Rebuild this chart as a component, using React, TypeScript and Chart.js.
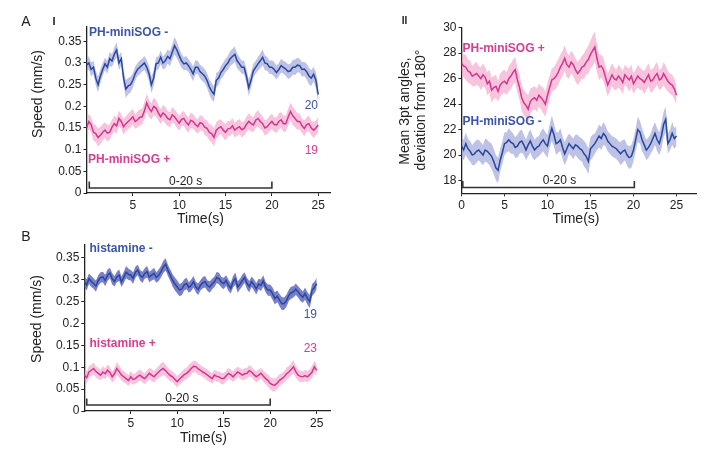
import React, { useEffect, useRef } from "react";
import { Chart, registerables } from "chart.js";
Chart.register(...registerables);

const W = 725;
const H = 460;
const FONT = "'Liberation Sans', Arial, sans-serif";

// sample times (s), 0.25 s resolution
const times: number[] = Array.from({ length: 101 }, (_, i) => i * 0.25);

// ---------- Panel A-I : speed (mm/s) ----------
const aiNegMean = [
  0.295,0.300,0.285,0.290, 0.265,0.250,0.270,0.285, 0.298,0.290,0.310,0.305, 0.320,0.330,0.300,0.310, 0.265,0.240,0.247,0.250,
  0.260,0.275,0.285,0.290, 0.295,0.300,0.290,0.275, 0.250,0.265,0.298,0.300, 0.313,0.300,0.305,0.315, 0.310,0.325,0.340,0.330,
  0.317,0.305,0.298,0.300, 0.294,0.285,0.275,0.290, 0.290,0.280,0.275,0.270, 0.260,0.245,0.235,0.228, 0.260,0.265,0.278,0.285,
  0.294,0.300,0.310,0.315, 0.320,0.305,0.298,0.290, 0.290,0.270,0.243,0.260, 0.282,0.290,0.298,0.305, 0.313,0.300,0.298,0.290,
  0.290,0.285,0.278,0.285, 0.294,0.290,0.286,0.280, 0.282,0.290,0.290,0.295, 0.294,0.285,0.286,0.280, 0.270,0.265,0.274,0.260,
  0.227,
];
const aiNegSem = [
  0.014,0.015,0.016,0.015, 0.017,0.018,0.016,0.015, 0.014,0.015,0.016,0.015, 0.016,0.018,0.017,0.016, 0.018,0.020,0.019,0.018,
  0.017,0.016,0.015,0.016, 0.015,0.016,0.017,0.018, 0.019,0.018,0.016,0.015, 0.016,0.015,0.017,0.016, 0.017,0.018,0.020,0.019,
  0.017,0.016,0.015,0.016, 0.015,0.016,0.017,0.016, 0.015,0.016,0.017,0.016, 0.017,0.018,0.019,0.018, 0.017,0.016,0.015,0.016,
  0.015,0.016,0.017,0.018, 0.018,0.017,0.016,0.015, 0.016,0.017,0.019,0.018, 0.016,0.015,0.016,0.017, 0.018,0.017,0.016,0.015,
  0.016,0.017,0.016,0.015, 0.016,0.015,0.016,0.017, 0.016,0.017,0.018,0.017, 0.016,0.017,0.016,0.018, 0.019,0.018,0.017,0.019,
  0.020,
];
const aiPosMean = [
  0.150,0.165,0.158,0.140, 0.137,0.128,0.133,0.140, 0.145,0.138,0.140,0.152, 0.160,0.155,0.172,0.165, 0.153,0.160,0.165,0.170,
  0.176,0.165,0.169,0.175, 0.176,0.190,0.208,0.195, 0.188,0.200,0.196,0.185, 0.176,0.185,0.180,0.172, 0.169,0.180,0.176,0.168,
  0.161,0.170,0.172,0.163, 0.157,0.168,0.165,0.158, 0.153,0.162,0.160,0.152, 0.149,0.140,0.137,0.128, 0.145,0.150,0.153,0.145,
  0.140,0.148,0.149,0.155, 0.145,0.150,0.153,0.146, 0.149,0.158,0.165,0.160, 0.157,0.168,0.172,0.165, 0.160,0.150,0.153,0.160,
  0.165,0.158,0.157,0.165, 0.169,0.160,0.160,0.175, 0.188,0.178,0.172,0.165, 0.165,0.155,0.149,0.158, 0.160,0.150,0.145,0.150,
  0.157,
];
const aiPosSem = [
  0.017,0.018,0.017,0.019, 0.020,0.021,0.020,0.019, 0.018,0.019,0.018,0.017, 0.018,0.019,0.018,0.017, 0.018,0.017,0.018,0.019,
  0.018,0.017,0.018,0.019, 0.018,0.020,0.021,0.020, 0.019,0.020,0.019,0.018, 0.017,0.018,0.019,0.018, 0.017,0.018,0.017,0.018,
  0.017,0.016,0.017,0.018, 0.017,0.018,0.017,0.016, 0.017,0.018,0.017,0.018, 0.018,0.019,0.020,0.021, 0.019,0.018,0.017,0.018,
  0.019,0.018,0.017,0.018, 0.017,0.018,0.017,0.018, 0.017,0.018,0.019,0.018, 0.017,0.018,0.019,0.018, 0.017,0.018,0.017,0.018,
  0.018,0.017,0.018,0.019, 0.018,0.019,0.018,0.019, 0.020,0.021,0.020,0.019, 0.018,0.017,0.018,0.017, 0.018,0.017,0.018,0.017,
  0.018,
];

// ---------- Panel A-II : mean 3pt angle deviation (deg) ----------
const aiiPosMean = [
  27.2,27.0,26.9,26.6, 26.5,26.2,26.3,26.4, 26.2,26.0,26.3,26.1, 25.6,25.8,25.1,25.3, 25.4,25.0,25.5,25.7,
  25.8,25.6,26.0,26.2, 26.5,26.7,25.9,25.3, 24.5,24.1,23.9,23.6, 24.2,24.4,24.5,24.3, 24.7,24.5,24.3,24.0,
  24.7,25.3,25.9,26.0, 26.2,26.5,26.9,27.2, 27.6,27.1,26.9,27.3, 27.1,26.7,26.4,26.6, 26.9,27.0,27.3,27.5,
  27.9,28.2,28.5,27.6, 26.9,27.0,26.7,26.1, 25.5,25.9,26.3,26.0, 25.9,26.2,26.0,25.7, 26.3,26.1,25.9,26.2,
  25.6,25.9,26.2,26.0, 25.9,25.7,26.0,26.3, 25.8,25.9,26.2,26.4, 25.9,26.0,26.4,26.1, 25.8,25.6,25.5,25.2,
  24.7,
];
const aiiPosSem = [
  0.9,0.9,1.0,0.9, 0.9,0.8,0.9,0.9, 0.8,0.9,0.9,0.8, 0.9,0.9,1.0,0.9, 0.9,0.8,0.9,0.9,
  0.9,0.9,1.0,1.0, 1.0,1.0,1.0,1.0, 1.0,1.0,1.0,1.1, 1.0,0.9,0.9,0.9, 0.9,0.9,1.0,1.0,
  1.0,0.9,0.9,0.9, 1.0,1.0,1.0,1.0, 1.0,1.0,0.9,0.9, 0.9,0.9,0.9,0.9, 0.9,1.0,1.0,1.1,
  1.1,1.2,1.2,1.1, 1.0,0.9,0.9,0.9, 0.9,0.9,0.9,0.9, 0.8,0.9,0.9,0.9, 0.8,0.8,0.9,0.9,
  0.8,0.8,0.9,0.9, 0.8,0.9,0.9,0.9, 0.9,0.9,0.9,0.9, 0.8,0.8,0.9,0.9, 0.8,0.8,0.8,0.8,
  0.8,
];
const aiiNegMean = [
  20.7,20.4,20.9,20.5, 20.3,20.0,20.1,20.3, 20.4,20.2,20.0,20.4, 20.3,20.1,19.9,19.5, 19.0,18.8,19.6,20.2,
  20.9,21.0,21.2,21.0, 20.9,20.6,20.7,21.0, 21.1,20.8,20.4,20.8, 21.1,20.7,20.4,20.6, 20.7,21.0,21.2,20.9,
  20.7,21.5,22.1,21.6, 20.9,21.0,21.2,20.6, 20.1,20.5,20.9,20.7, 20.5,20.8,20.7,20.5, 20.4,20.1,19.9,19.5,
  20.5,20.7,20.9,21.2, 21.5,21.3,21.7,21.5, 21.1,20.9,20.7,20.6, 20.5,20.3,20.1,20.3, 20.4,20.0,19.8,19.9,
  20.4,21.2,22.0,21.8, 21.2,20.8,20.4,20.6, 20.9,21.3,21.7,21.2, 20.9,21.5,22.4,22.8, 20.9,21.2,21.7,21.3,
  21.5,
];
const aiiNegSem = [
  0.8,0.8,0.9,0.8, 0.8,0.8,0.9,0.9, 0.8,0.8,0.8,0.9, 0.9,0.9,1.0,1.0, 1.0,1.0,0.9,0.9,
  0.9,0.8,0.9,0.9, 0.8,0.8,0.9,0.9, 0.9,0.8,0.8,0.9, 0.9,0.9,0.8,0.8, 0.8,0.9,0.9,0.9,
  0.9,0.9,1.0,0.9, 0.9,0.8,0.9,0.9, 0.9,0.9,0.8,0.8, 0.8,0.8,0.9,0.9, 0.9,1.0,1.0,1.0,
  0.9,0.9,0.8,0.8, 0.9,0.9,0.9,0.8, 0.8,0.8,0.8,0.8, 0.8,0.8,0.9,0.9, 0.8,0.8,0.9,0.9,
  0.9,0.9,1.0,0.9, 0.9,0.8,0.8,0.8, 0.8,0.9,0.9,0.9, 0.9,1.0,1.0,1.0, 0.8,0.8,0.9,0.8,
  0.8,
];

// ---------- Panel B : speed (mm/s), histamine ----------
const bNegMean = [
  0.295,0.288,0.302,0.296, 0.291,0.285,0.298,0.305, 0.306,0.298,0.310,0.315, 0.302,0.296,0.306,0.310, 0.295,0.305,0.317,0.312,
  0.310,0.303,0.317,0.322, 0.310,0.305,0.314,0.318, 0.306,0.310,0.314,0.305, 0.310,0.318,0.329,0.335, 0.321,0.310,0.298,0.290,
  0.283,0.276,0.279,0.288, 0.291,0.282,0.287,0.295, 0.283,0.278,0.287,0.293, 0.295,0.286,0.283,0.290, 0.295,0.305,0.302,0.294,
  0.291,0.298,0.287,0.280, 0.295,0.302,0.283,0.290, 0.298,0.305,0.291,0.284, 0.295,0.288,0.279,0.290, 0.287,0.297,0.283,0.276,
  0.276,0.268,0.257,0.262, 0.253,0.245,0.245,0.252, 0.264,0.270,0.272,0.278, 0.272,0.265,0.260,0.268, 0.257,0.250,0.276,0.282,
  0.291,
];
const bNegSem = [
  0.012,0.013,0.012,0.013, 0.012,0.013,0.012,0.012, 0.012,0.013,0.013,0.012, 0.013,0.012,0.012,0.013, 0.012,0.013,0.014,0.013,
  0.012,0.013,0.013,0.012, 0.012,0.013,0.012,0.013, 0.012,0.012,0.013,0.012, 0.013,0.013,0.014,0.014, 0.013,0.013,0.014,0.015,
  0.015,0.014,0.014,0.013, 0.013,0.012,0.013,0.013, 0.012,0.013,0.012,0.013, 0.013,0.012,0.013,0.012, 0.012,0.013,0.013,0.012,
  0.013,0.012,0.013,0.012, 0.013,0.014,0.013,0.012, 0.013,0.012,0.013,0.013, 0.012,0.013,0.013,0.012, 0.013,0.013,0.012,0.013,
  0.013,0.014,0.014,0.013, 0.014,0.015,0.014,0.014, 0.013,0.014,0.013,0.013, 0.013,0.014,0.013,0.014, 0.014,0.015,0.014,0.013,
  0.013,
];
const bPosMean = [
  0.082,0.076,0.089,0.093, 0.097,0.090,0.086,0.082, 0.089,0.085,0.093,0.088, 0.078,0.085,0.097,0.090, 0.082,0.078,0.074,0.070,
  0.078,0.072,0.074,0.079, 0.082,0.077,0.074,0.080, 0.086,0.082,0.078,0.084, 0.089,0.094,0.097,0.092, 0.086,0.081,0.078,0.072,
  0.067,0.073,0.078,0.083, 0.086,0.091,0.097,0.102, 0.101,0.096,0.093,0.089, 0.086,0.082,0.078,0.074, 0.082,0.079,0.078,0.074,
  0.074,0.080,0.086,0.083, 0.078,0.084,0.089,0.086, 0.082,0.085,0.086,0.092, 0.089,0.083,0.078,0.082, 0.086,0.080,0.074,0.070,
  0.063,0.060,0.059,0.064, 0.070,0.074,0.078,0.085, 0.089,0.095,0.101,0.090, 0.082,0.079,0.078,0.081, 0.078,0.083,0.089,0.101,
  0.093,
];
const bPosSem = [
  0.013,0.014,0.013,0.013, 0.014,0.013,0.013,0.012, 0.013,0.012,0.013,0.013, 0.013,0.014,0.015,0.014, 0.013,0.013,0.012,0.013,
  0.013,0.012,0.012,0.013, 0.013,0.012,0.013,0.013, 0.013,0.014,0.013,0.013, 0.014,0.015,0.015,0.014, 0.013,0.013,0.012,0.013,
  0.013,0.012,0.013,0.013, 0.013,0.014,0.014,0.013, 0.013,0.013,0.012,0.012, 0.012,0.013,0.012,0.012, 0.012,0.012,0.012,0.013,
  0.013,0.012,0.013,0.012, 0.012,0.013,0.012,0.012, 0.012,0.013,0.012,0.013, 0.012,0.012,0.013,0.013, 0.012,0.013,0.013,0.014,
  0.014,0.015,0.015,0.014, 0.014,0.013,0.013,0.014, 0.014,0.014,0.015,0.014, 0.013,0.013,0.012,0.013, 0.013,0.013,0.014,0.014,
  0.013,
];

// tick values
const speedTicks = [0, 0.05, 0.1, 0.15, 0.2, 0.25, 0.3, 0.35];
const angleTicks = [18, 20, 22, 24, 26, 28, 30];
const timeTicksA = [5, 10, 15, 20, 25];
const timeTicksAII = [0, 5, 10, 15, 20, 25];

// colours
const BLUE_LINE = "#28479d";
const BLUE_BAND = "rgba(150,158,214,0.62)";
const BLUE_BAND_B = "rgba(98,106,190,0.85)";
const PINK_LINE = "#d4378d";
const PINK_BAND = "rgba(242,158,200,0.62)";
const BLUE_TXT = "#3b55a7";
const PINK_TXT = "#d83d91";
const INK = "#222";

type Txt = {
  text: string; x: number; y: number; size: number;
  bold?: boolean; color?: string; align?: CanvasTextAlign; rotate?: boolean;
};
type Series = { mean: number[]; sem: number[]; line: string; band: string };
type PanelCfg = {
  area: { left: number; top: number; right: number; bottom: number };
  xMax: number; yMin: number; yMax: number;
  xTicks: number[]; yTicks: number[];
  series: Series[];
  texts: Txt[];
  bar: { from: number; to: number; y: number; labelX: number };
};

const panels: PanelCfg[] = [
  {
    area: { left: 86.5, top: 27, right: 330, bottom: 193 },
    xMax: 26.27, yMin: 0, yMax: 0.383,
    xTicks: timeTicksA, yTicks: speedTicks,
    series: [
      { mean: aiNegMean, sem: aiNegSem, line: BLUE_LINE, band: BLUE_BAND },
      { mean: aiPosMean, sem: aiPosSem, line: PINK_LINE, band: PINK_BAND },
    ],
    texts: [
      { text: "A", x: 26, y: 22, size: 14 },
      { text: "I", x: 54, y: 22, size: 11, bold: true },
      { text: "PH-miniSOG -", x: 89, y: 32.5, size: 12, bold: true, color: BLUE_TXT, align: "left" },
      { text: "20", x: 318, y: 106, size: 12, color: BLUE_TXT, align: "right" },
      { text: "19", x: 318, y: 151, size: 12, color: PINK_TXT, align: "right" },
      { text: "PH-miniSOG +", x: 88, y: 159.5, size: 12, bold: true, color: PINK_TXT, align: "left" },
      { text: "Speed (mm/s)", x: 38.5, y: 94, size: 14, rotate: true },
      { text: "Time(s)", x: 200.5, y: 219, size: 14 },
    ],
    bar: { from: 0.3, to: 20, y: 0.0116, labelX: 10.7 },
  },
  {
    area: { left: 461.5, top: 27.7, right: 696.7, bottom: 193.3 },
    xMax: 27.35, yMin: 17, yMax: 30,
    xTicks: timeTicksAII, yTicks: angleTicks,
    series: [
      { mean: aiiPosMean, sem: aiiPosSem, line: PINK_LINE, band: PINK_BAND },
      { mean: aiiNegMean, sem: aiiNegSem, line: BLUE_LINE, band: BLUE_BAND },
    ],
    texts: [
      { text: "II", x: 404.5, y: 21, size: 10, bold: true },
      { text: "Mean 3pt angles,", x: 405.5, y: 111, size: 14, rotate: true },
      { text: "deviation from 180°", x: 421.5, y: 110, size: 14, rotate: true },
      { text: "PH-miniSOG +", x: 462.5, y: 48.5, size: 12, bold: true, color: PINK_TXT, align: "left" },
      { text: "PH-miniSOG -", x: 462.5, y: 122, size: 12, bold: true, color: BLUE_TXT, align: "left" },
      { text: "Time(s)", x: 576, y: 219, size: 14 },
    ],
    bar: { from: 0.15, to: 20.1, y: 17.45, labelX: 11.4 },
  },
  {
    area: { left: 84.3, top: 245, right: 330, bottom: 411 },
    xMax: 26.43, yMin: 0, yMax: 0.379,
    xTicks: timeTicksA, yTicks: speedTicks,
    series: [
      { mean: bNegMean, sem: bNegSem, line: BLUE_LINE, band: BLUE_BAND_B },
      { mean: bPosMean, sem: bPosSem, line: PINK_LINE, band: PINK_BAND },
    ],
    texts: [
      { text: "B", x: 26, y: 237, size: 14 },
      { text: "histamine -", x: 89.5, y: 248.5, size: 12, bold: true, color: BLUE_TXT, align: "left" },
      { text: "19", x: 317, y: 314.5, size: 12, color: BLUE_TXT, align: "right" },
      { text: "histamine +", x: 89.5, y: 343.5, size: 12, bold: true, color: PINK_TXT, align: "left" },
      { text: "23", x: 317, y: 349, size: 12, color: PINK_TXT, align: "right" },
      { text: "Speed (mm/s)", x: 36.7, y: 319, size: 14, rotate: true },
      { text: "Time(s)", x: 203.5, y: 438.5, size: 14 },
    ],
    bar: { from: 0.26, to: 20, y: 0.0137, labelX: 10.5 },
  },
];

const YW = 40;
const XH = 20;

const annotate = {
  id: "annotate",
  afterDraw(chart: any, _args: any, opts: any) {
    const cfg: PanelCfg = opts.cfg;
    const ctx: CanvasRenderingContext2D = chart.ctx;
    const xs = chart.scales.x;
    const ys = chart.scales.y;
    ctx.save();
    // scale bar
    const x0 = xs.getPixelForValue(cfg.bar.from);
    const x1 = xs.getPixelForValue(cfg.bar.to);
    const yb = ys.getPixelForValue(cfg.bar.y);
    ctx.strokeStyle = "#333";
    ctx.lineWidth = 1.6;
    ctx.beginPath();
    ctx.moveTo(x0, yb - 6.5);
    ctx.lineTo(x0, yb);
    ctx.lineTo(x1, yb);
    ctx.lineTo(x1, yb - 6.5);
    ctx.stroke();
    ctx.fillStyle = INK;
    ctx.font = `12px ${FONT}`;
    ctx.textAlign = "center";
    ctx.textBaseline = "middle";
    ctx.fillText("0-20 s", xs.getPixelForValue(cfg.bar.labelX), yb - 6.5);
    // texts
    for (const t of cfg.texts) {
      ctx.save();
      ctx.font = `${t.bold ? "bold " : ""}${t.size}px ${FONT}`;
      ctx.fillStyle = t.color || INK;
      ctx.textAlign = t.align || "center";
      ctx.textBaseline = "middle";
      ctx.translate(t.x, t.y);
      if (t.rotate) ctx.rotate(-Math.PI / 2);
      ctx.fillText(t.text, 0, 0);
      ctx.restore();
    }
    ctx.restore();
  },
};

function buildConfig(cfg: PanelCfg): any {
  const lines = cfg.series.map((s) => ({
    data: times.map((t, i) => ({ x: t, y: s.mean[i] })),
    borderColor: s.line,
    borderWidth: 1.5,
    pointRadius: 0,
    fill: false,
    order: 0,
  }));
  const bands = cfg.series.flatMap((s) => [
    {
      data: times.map((t, i) => ({ x: t, y: s.mean[i] + s.sem[i] })),
      borderColor: "transparent",
      borderWidth: 0,
      pointRadius: 0,
      backgroundColor: s.band,
      fill: "+1",
      order: 1,
    },
    {
      data: times.map((t, i) => ({ x: t, y: s.mean[i] - s.sem[i] })),
      borderColor: "transparent",
      borderWidth: 0,
      pointRadius: 0,
      fill: false,
      order: 1,
    },
  ]);
  const a = cfg.area;
  const tickFont = { family: FONT, size: 12 };
  return {
    type: "line",
    data: { datasets: [...lines, ...bands] },
    plugins: [annotate],
    options: {
      responsive: false,
      animation: false,
      devicePixelRatio: 1,
      events: [],
      layout: {
        padding: {
          left: a.left - YW,
          top: a.top,
          right: W - a.right,
          bottom: H - a.bottom - XH,
        },
      },
      plugins: {
        legend: { display: false },
        tooltip: { enabled: false },
        annotate: { cfg },
      },
      scales: {
        x: {
          type: "linear",
          min: 0,
          max: cfg.xMax,
          afterFit: (s: any) => { s.height = XH; },
          afterBuildTicks: (s: any) => { s.ticks = cfg.xTicks.map((v) => ({ value: v })); },
          ticks: { font: tickFont, color: INK, padding: 2, autoSkip: false, maxRotation: 0, callback: (v: any) => String(v) },
          grid: { drawOnChartArea: false, drawTicks: true, tickLength: 3, color: INK, lineWidth: 1 },
          border: { display: true, color: INK, width: 1.3 },
        },
        y: {
          type: "linear",
          min: cfg.yMin,
          max: cfg.yMax,
          afterFit: (s: any) => { s.width = YW; },
          afterBuildTicks: (s: any) => { s.ticks = cfg.yTicks.map((v) => ({ value: v })); },
          ticks: { font: tickFont, color: INK, padding: 2, autoSkip: false, callback: (v: any) => String(v) },
          grid: { drawOnChartArea: false, drawTicks: true, tickLength: 3, color: INK, lineWidth: 1 },
          border: { display: true, color: INK, width: 1.3 },
        },
      },
    },
  };
}

export default function App() {
  const r0 = useRef<HTMLCanvasElement>(null);
  const r1 = useRef<HTMLCanvasElement>(null);
  const r2 = useRef<HTMLCanvasElement>(null);
  useEffect(() => {
    const refs = [r0, r1, r2];
    const charts = panels.map((p, i) => new Chart(refs[i].current!, buildConfig(p)));
    return () => charts.forEach((c) => c.destroy());
  }, []);
  const style: React.CSSProperties = { position: "absolute", left: 0, top: 0, width: W, height: H };
  return (
    <div style={{ position: "absolute", left: 0, top: 0, width: W, height: H, background: "#fff", overflow: "hidden" }}>
      <canvas ref={r0} width={W} height={H} style={style} />
      <canvas ref={r1} width={W} height={H} style={style} />
      <canvas ref={r2} width={W} height={H} style={style} />
    </div>
  );
}
